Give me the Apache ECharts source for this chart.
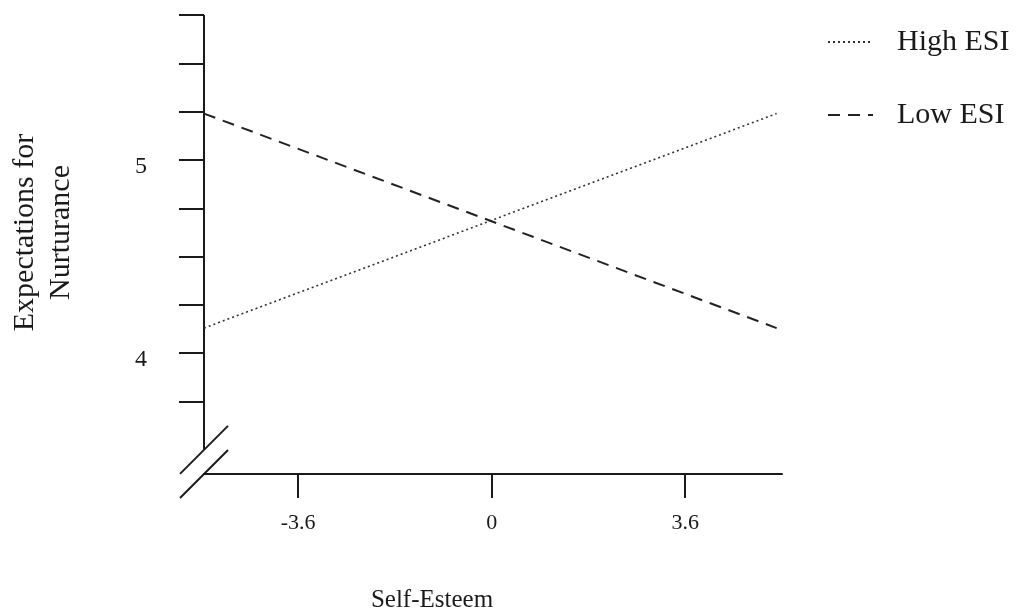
<!DOCTYPE html>
<html>
<head>
<meta charset="utf-8">
<script src="https://cdn.jsdelivr.net/npm/echarts@6/dist/echarts.min.js"></script>
<style>
  html, body { margin: 0; padding: 0; background: #fff; }
  #chart { width: 1018px; height: 612px; }
</style>
</head>
<body>
<div id="chart"></div>
<script>
// self-esteem end points of the two simple slopes
var selfEsteem = [-5.35, 5.3];
var highESI = [4.13, 5.24];
var lowESI = [5.24, 4.13];

var xTicks = [-3.6, 0, 3.6];
var yTicks = [3.75, 4, 4.25, 4.5, 4.75, 5, 5.25, 5.5, 5.75];
var yLabels = [4, 5];

var xMin = -5.35, xMax = 5.4;
var yMin = 3.375, yMax = 5.75, yAxisEnd = 3.5;

var font = 'Liberation Serif';
var ink = '#1a1a1a';

function pairs(xs, ys) {
  return xs.map(function (x, i) { return [x, ys[i]]; });
}

var chart = echarts.init(document.getElementById('chart'));

var option = {
  animation: false,
  backgroundColor: '#fff',
  grid: { left: 204, right: 236, top: 15, bottom: 138, outerBoundsMode: 'none', containLabel: false },
  legend: {
    orient: 'vertical',
    left: 822,
    top: 22,
    itemWidth: 45,
    itemHeight: 12,
    itemGap: 43,
    itemStyle: { opacity: 0 },
    textStyle: { fontFamily: font, fontSize: 30, color: ink, padding: [5, 0, 0, 19] },
    data: ['High ESI', 'Low ESI']
  },
  xAxis: {
    type: 'value',
    min: xMin,
    max: xMax,
    splitLine: { show: false },
    axisLine: { onZero: false, lineStyle: { color: ink, width: 2 } },
    axisTick: { customValues: xTicks, length: 24, lineStyle: { color: ink, width: 2 } },
    axisLabel: { customValues: xTicks, margin: 38, fontFamily: font, fontSize: 22, color: ink },
    name: 'Self-Esteem',
    nameLocation: 'middle',
    nameGap: 114,
    nameTextStyle: { fontFamily: font, fontSize: 25, color: ink, padding: [0, 122, 0, 0] }
  },
  yAxis: {
    type: 'value',
    min: yMin,
    max: yMax,
    splitLine: { show: false },
    axisLine: { show: false, onZero: false },
    axisTick: { customValues: yTicks, length: 25, lineStyle: { color: ink, width: 2 } },
    axisLabel: { customValues: yLabels, margin: 57, fontFamily: font, fontSize: 24, color: ink, verticalAlign: 'top', lineHeight: 13 },
    name: 'Expectations for\nNurturance',
    nameLocation: 'middle',
    nameRotate: 90,
    nameGap: 125,
    nameTextStyle: { fontFamily: font, fontSize: 30, color: ink, lineHeight: 36, padding: [0, 0, 0, 24] }
  },
  series: [
    {
      name: 'High ESI',
      type: 'line',
      symbol: 'none',
      color: '#333',
      data: pairs(selfEsteem, highESI),
      lineStyle: { color: '#333', width: 1.6, type: [2, 3] }
    },
    {
      name: 'Low ESI',
      type: 'line',
      symbol: 'none',
      color: '#222',
      data: pairs(selfEsteem, lowESI),
      lineStyle: { color: '#222', width: 2, type: [12, 8] }
    }
  ]
};

chart.setOption(option);

// y axis line stops above the x axis, with a // break at the corner
var axisTop = chart.convertToPixel({ gridIndex: 0 }, [xMin, yMax]);
var axisEnd = chart.convertToPixel({ gridIndex: 0 }, [xMin, yAxisEnd]);
var corner = chart.convertToPixel({ gridIndex: 0 }, [xMin, yMin]);
var d = 24;
var stroke = { stroke: ink, lineWidth: 2 };
chart.setOption({
  graphic: [
    { type: 'line', shape: { x1: axisTop[0], y1: axisTop[1], x2: axisEnd[0], y2: axisEnd[1] }, style: stroke },
    { type: 'line', shape: { x1: axisEnd[0] - d, y1: axisEnd[1] + d, x2: axisEnd[0] + d, y2: axisEnd[1] - d }, style: stroke },
    { type: 'line', shape: { x1: corner[0] - d, y1: corner[1] + d, x2: corner[0] + d, y2: corner[1] - d }, style: stroke }
  ]
});
</script>
</body>
</html>
